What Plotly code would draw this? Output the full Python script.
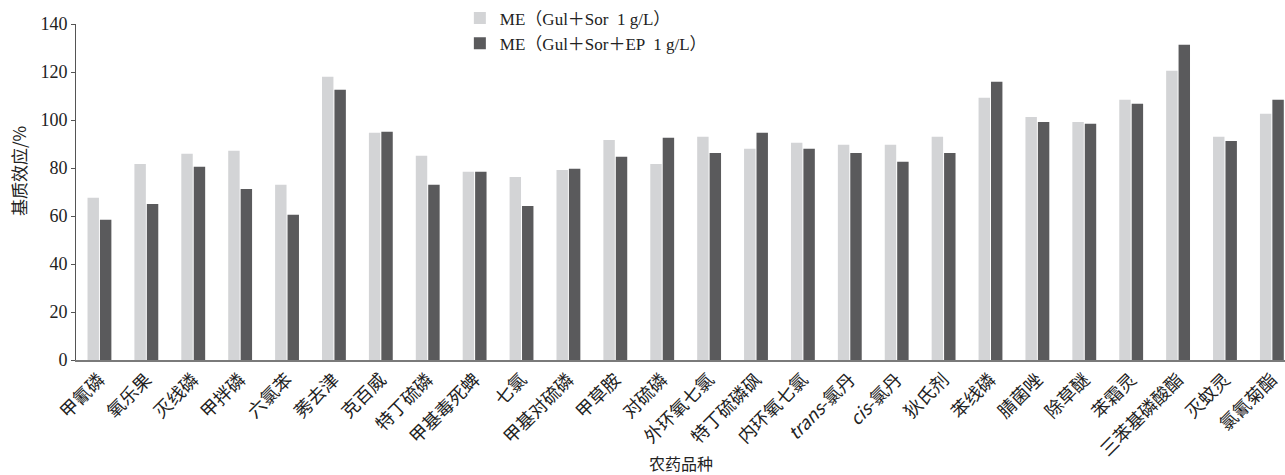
import plotly.graph_objects as go

categories = ["甲氰磷", "氧乐果", "灭线磷", "甲拌磷", "六氯苯", "莠去津", "克百威", "特丁硫磷",
              "甲基毒死蜱", "七氯", "甲基对硫磷", "甲草胺", "对硫磷", "外环氧七氯", "特丁硫磷砜",
              "内环氧七氯", "<i>trans</i>-氯丹", "<i>cis</i>-氯丹", "狄氏剂", "苯线磷", "腈菌唑",
              "除草醚", "苯霜灵", "三苯基磷酸酯", "灭蚊灵", "氯氰菊酯"]

me_gul_sor = [67.6, 81.7, 85.9, 87.2, 73.0, 118.0, 94.7, 85.1, 78.4, 76.3, 79.2, 91.7, 81.7,
              93.0, 88.0, 90.5, 89.7, 89.7, 93.0, 109.3, 101.3, 99.2, 108.4, 120.5, 93.0, 102.6]
me_gul_sor_ep = [58.4, 65.0, 80.5, 71.3, 60.5, 112.6, 95.1, 73.0, 78.4, 64.2, 79.7, 84.7, 92.6,
                 86.3, 94.7, 88.0, 86.3, 82.6, 86.3, 115.9, 99.2, 98.4, 106.8, 131.4, 91.3, 108.4]

series_names = ["ME（Gul＋Sor  1 g/L）", "ME（Gul＋Sor＋EP  1 g/L）"]
y_ticks = [0, 20, 40, 60, 80, 100, 120, 140]

serif = "Liberation Serif, Noto Sans CJK SC, serif"
cjk = "Noto Sans CJK SC, Liberation Serif, serif"

x_idx = list(range(len(categories)))

fig = go.Figure()
fig.add_trace(go.Bar(x=x_idx, y=me_gul_sor, name=series_names[0],
                     marker=dict(color="#d3d4d6", line=dict(width=0))))
fig.add_trace(go.Bar(x=x_idx, y=me_gul_sor_ep, name=series_names[1],
                     marker=dict(color="#5a5a5c", line=dict(width=0))))

fig.update_layout(
    width=1285, height=475,
    margin=dict(l=76, r=0, t=24, b=115, autoexpand=False),
    plot_bgcolor="white", paper_bgcolor="white",
    barmode="group", bargap=0.47, bargroupgap=0.08,
    font=dict(family=serif, size=16, color="#222222"),
    legend=dict(x=0.3175, y=1.07, xanchor="left", yanchor="top",
                bgcolor="rgba(0,0,0,0)", font=dict(family=serif, size=17, color="#222222"),
                itemwidth=30, tracegroupgap=6),
    showlegend=True,
    annotations=[
        dict(text="农药品种", xref="paper", yref="paper", x=0.5, y=-0.3065,
             xanchor="center", yanchor="middle", showarrow=False,
             font=dict(family=cjk, size=16, color="#222222")),
        dict(text="基质效应/%", xref="paper", yref="paper", x=-0.0479, y=0.5625,
             xanchor="center", yanchor="middle", showarrow=False, textangle=-90,
             font=dict(family=cjk, size=17, color="#222222")),
    ],
)

fig.update_xaxes(
    tickmode="array", tickvals=x_idx, ticktext=categories,
    tickangle=-45, tickfont=dict(family=cjk, size=18, color="#222222"),
    range=[-0.5, 25.28], automargin=False,
    showline=True, linecolor="#7a7a7a", linewidth=2,
    ticks="", showgrid=False, zeroline=False,
)
fig.update_yaxes(
    range=[0, 140], tickmode="array", tickvals=y_ticks, automargin=False,
    tickfont=dict(family=serif, size=18, color="#222222"),
    showline=True, linecolor="#555555", linewidth=1,
    ticks="outside", ticklen=4, tickcolor="#555555",
    showgrid=False, zeroline=False,
)

fig.write_html("out.html", config={"displayModeBar": False},
               post_script="document.body.style.margin='0';document.body.style.overflow='hidden';")
